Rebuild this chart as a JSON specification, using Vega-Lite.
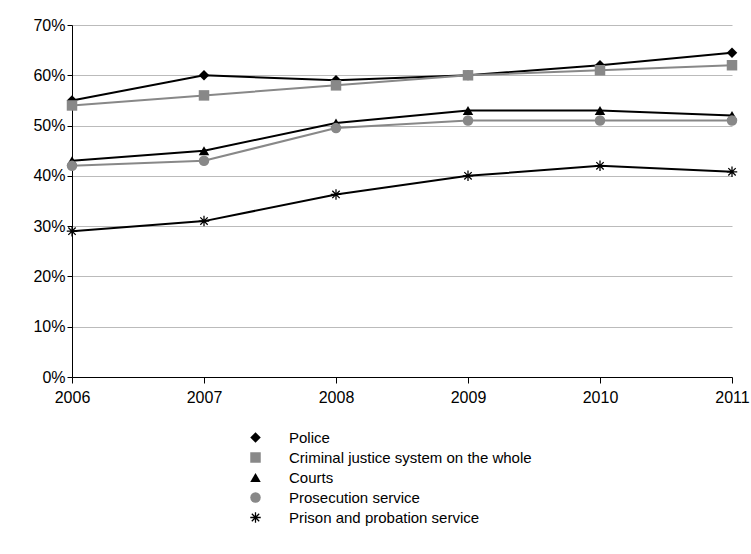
{
"$schema":"https://vega.github.io/schema/vega-lite/v6.json",
"width":660,"height":352,
"padding":{"left":32,"top":17,"right":21,"bottom":5},
"config":{"font":"Liberation Sans","view":{"stroke":null},
"axis":{"labelFont":"Liberation Sans","labelFontSize":16,"labelColor":"#000","domainColor":"#000","tickColor":"#000","title":null}},
"data":{"values":[
{"year":2006,"s":"Police","v":55},{"year":2007,"s":"Police","v":60},{"year":2008,"s":"Police","v":59},{"year":2009,"s":"Police","v":60},{"year":2010,"s":"Police","v":62},{"year":2011,"s":"Police","v":64.5},
{"year":2006,"s":"Criminal justice system on the whole","v":54},{"year":2007,"s":"Criminal justice system on the whole","v":56},{"year":2008,"s":"Criminal justice system on the whole","v":58},{"year":2009,"s":"Criminal justice system on the whole","v":60},{"year":2010,"s":"Criminal justice system on the whole","v":61},{"year":2011,"s":"Criminal justice system on the whole","v":62},
{"year":2006,"s":"Courts","v":43},{"year":2007,"s":"Courts","v":45},{"year":2008,"s":"Courts","v":50.5},{"year":2009,"s":"Courts","v":53},{"year":2010,"s":"Courts","v":53},{"year":2011,"s":"Courts","v":52},
{"year":2006,"s":"Prosecution service","v":42},{"year":2007,"s":"Prosecution service","v":43},{"year":2008,"s":"Prosecution service","v":49.5},{"year":2009,"s":"Prosecution service","v":51},{"year":2010,"s":"Prosecution service","v":51},{"year":2011,"s":"Prosecution service","v":51},
{"year":2006,"s":"Prison and probation service","v":29},{"year":2007,"s":"Prison and probation service","v":31},{"year":2008,"s":"Prison and probation service","v":36.3},{"year":2009,"s":"Prison and probation service","v":40},{"year":2010,"s":"Prison and probation service","v":42},{"year":2011,"s":"Prison and probation service","v":40.8}
]},
"encoding":{
"x":{"field":"year","type":"quantitative","scale":{"domain":[2006,2011],"nice":false,"zero":false},"axis":{"format":"d","tickCount":6,"grid":false,"labelPadding":6,"labelFlush":false,"tickSize":6}},
"y":{"field":"v","type":"quantitative","scale":{"domain":[0,70]},"axis":{"values":[0,10,20,30,40,50,60,70],"labelExpr":"datum.value+'%'","gridColor":"#bbb","tickSize":5}},
"color":{"field":"s","type":"nominal","sort":null,
"scale":{"domain":["Police","Criminal justice system on the whole","Courts","Prosecution service","Prison and probation service"],"range":["#000","#888","#000","#888","#000"]},
"legend":{"title":null,"orient":"none","legendX":176,"legendY":405,"labelFontSize":15,"labelFont":"Liberation Sans","labelColor":"#000","labelLimit":0,"labelOffset":26,"symbolSize":110,"rowPadding":4,"symbolStrokeWidth":0}}
},
"layer":[
{"mark":{"type":"line","strokeWidth":2}},
{"mark":{"type":"point","filled":true,"size":110,"opacity":1},
"encoding":{
"shape":{"field":"s","type":"nominal","sort":null,"scale":{"domain":["Police","Criminal justice system on the whole","Courts","Prosecution service","Prison and probation service"],"range":["diamond","square","triangle-up","circle","M-1,-0.12L1,-0.12L1,0.12L-1,0.12ZM-0.12,-1L0.12,-1L0.12,1L-0.12,1ZM-0.62,-0.79L0.79,0.62L0.62,0.79L-0.79,-0.62ZM-0.79,0.62L0.62,-0.79L0.79,-0.62L-0.62,0.79Z"]}}
}}
]
}
